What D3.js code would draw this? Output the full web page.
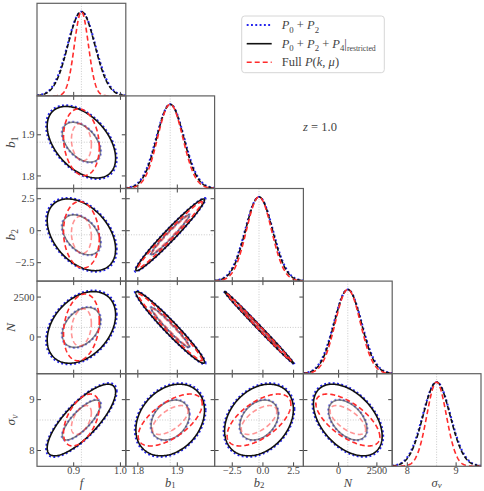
<!DOCTYPE html>
<html><head><meta charset="utf-8">
<script src="https://cdn.jsdelivr.net/npm/d3@7"></script>
<style>body{margin:0;background:#fff}</style>
</head><body><svg id="c" width="484" height="491"></svg>
<script>
// ---------------- data ----------------
const paramNames = ["f", "b1", "b2", "N", "sv"];
const fiducial = [0.9165, 1.882, -0.32, 600, 8.6];
const axisHalfRange = [0.095, 0.1125, 3.62, 2900, 0.91];
const tickValues = [[0.9, 1.0], [1.8, 1.9], [-2.5, 0, 2.5], [0, 2500], [8, 9]];
const xTickLabels = [["0.9", "1.0"], ["1.8", "1.9"], ["−2.5", "0.0", "2.5"], ["0", "2500"], ["8", "9"]];
const yTickLabels = [["0.9", "1.0"], ["1.8", "1.9"], ["−2.5", "0", "2.5"], ["0", "2500"], ["8", "9"]];
// 1-sigma marginal errors per series
const sigmaP02 = [0.0296, 0.0351, 1.13, 905, 0.284];
const sigmaP024 = [0.0287, 0.0341, 1.10, 880, 0.276];
const sigmaFull = [0.0150, 0.0318, 1.02, 820, 0.200];
// pairs [row param, column param]
const pairs = [[1, 0], [2, 0], [3, 0], [4, 0], [2, 1], [3, 1], [4, 1], [3, 2], [4, 2], [4, 3]];
const rhoP02 = [-0.45, -0.40, 0.35, 0.78, 0.975, -0.97, 0.27, -0.997, 0.30, -0.45];
const rhoP024 = [-0.45, -0.40, 0.35, 0.78, 0.975, -0.97, 0.27, -0.997, 0.30, -0.45];
const rhoFull = [-0.15, -0.10, 0.20, 0.50, 0.985, -0.98, 0.62, -0.998, 0.60, -0.65];
const contourLevels = [1.42, 2.55];

// ---------------- layout ----------------
const svg = d3.select("#c");
const X0 = 37, Y0 = 3.3, PW = 88.8, PH = 92.6;
const FONT = "'Liberation Serif','DejaVu Serif',serif";
const TXT = "#444";
const n = paramNames.length;
const xs = paramNames.map((p, i) => d3.scaleLinear()
  .domain([fiducial[i] - axisHalfRange[i], fiducial[i] + axisHalfRange[i]])
  .range([X0 + i * PW, X0 + (i + 1) * PW]));
const ys = paramNames.map((p, j) => d3.scaleLinear()
  .domain([fiducial[j] - axisHalfRange[j], fiducial[j] + axisHalfRange[j]])
  .range([Y0 + (j + 1) * PH, Y0 + j * PH]));
const diagY = d3.range(n).map(j => d3.scaleLinear().domain([0, 1.1]).range([Y0 + (j + 1) * PH, Y0 + j * PH]));

const series = [
  {sig: sigmaP02, rho: rhoP02, stroke: "#2424ee", width: 2.1, dash: "1.9,2.4"},
  {sig: sigmaP024, rho: rhoP024, stroke: "#111", width: 1.6, dash: null},
  {sig: sigmaFull, rho: rhoFull, stroke: "#ff2b2b", width: 1.6, dash: "5,3"}
];

const defs = svg.append("defs");
function clipFor(i, j) {
  const id = `clip${i}_${j}`;
  defs.append("clipPath").attr("id", id).append("rect")
    .attr("x", X0 + i * PW).attr("y", Y0 + j * PH).attr("width", PW).attr("height", PH);
  return `url(#${id})`;
}

function styleLine(p, s, op, dashOverride) {
  p.attr("fill", "none").attr("stroke", s.stroke).attr("stroke-width", s.width)
    .attr("stroke-opacity", op);
  const d = dashOverride !== undefined ? dashOverride : s.dash;
  if (d) p.attr("stroke-dasharray", d);
  return p;
}

function fidLines(g, i, j, diag) {
  const st = (l) => l.attr("stroke", "#bdbdbd").attr("stroke-width", 0.8).attr("stroke-dasharray", "1,1.6");
  st(g.append("line").attr("x1", xs[i](fiducial[i])).attr("x2", xs[i](fiducial[i]))
    .attr("y1", Y0 + j * PH).attr("y2", Y0 + (j + 1) * PH));
  if (!diag) st(g.append("line").attr("y1", ys[j](fiducial[j])).attr("y2", ys[j](fiducial[j]))
    .attr("x1", X0 + i * PW).attr("x2", X0 + (i + 1) * PW));
}

function ellipsePts(i, j, sig, rho, k) {
  const sx = sig[i], sy = sig[j], c = Math.sqrt(1 - rho * rho);
  return d3.range(0, 360, 1.5).map(t => {
    const a = t * Math.PI / 180;
    return [fiducial[i] + k * sx * Math.cos(a), fiducial[j] + k * sy * (rho * Math.cos(a) + c * Math.sin(a))];
  });
}

// off-diagonal panels
pairs.forEach((pr, pi) => {
  const j = pr[0], i = pr[1];
  const g = svg.append("g").attr("clip-path", clipFor(i, j));
  fidLines(g, i, j, false);
  const line = d3.line().x(d => xs[i](d[0])).y(d => ys[j](d[1])).curve(d3.curveLinearClosed);
  series.forEach(s => {
    contourLevels.forEach((k, li) => {
      styleLine(g.append("path").attr("d", line(ellipsePts(i, j, s.sig, s.rho[pi], k))), s, li === 0 ? 0.5 : 1);
    });
  });
});

// diagonal panels
d3.range(n).forEach(i => {
  const g = svg.append("g").attr("clip-path", clipFor(i, i));
  fidLines(g, i, i, true);
  const dom = xs[i].domain();
  const line = d3.line().x(d => xs[i](d[0])).y(d => diagY[i](d[1]));
  [0, 1, 2].forEach(si => {
    const s = series[si];
    const pts = d3.range(0, 241).map(m => {
      const x = dom[0] + (dom[1] - dom[0]) * m / 240;
      return [x, Math.exp(-0.5 * Math.pow((x - fiducial[i]) / s.sig[i], 2))];
    });
    styleLine(g.append("path").attr("d", line(pts)), s, 1, si === 1 ? "4.5,2.2" : undefined);
  });
});

// spines and ticks
const axG = svg.append("g");
const TL = 4;
function tick(x1, y1, x2, y2) {
  axG.append("line").attr("x1", x1).attr("y1", y1).attr("x2", x2).attr("y2", y2)
    .attr("stroke", "#444").attr("stroke-width", 1);
}
d3.range(n).forEach(j => {
  d3.range(j + 1).forEach(i => {
    const L = X0 + i * PW, R = L + PW, T = Y0 + j * PH, B = T + PH;
    tickValues[i].forEach(v => {
      const x = xs[i](v);
      if (x < L || x > R) return;
      tick(x, B, x, B - TL);
      if (i !== j) tick(x, T, x, T + TL);
    });
    if (i !== j) tickValues[j].forEach(v => {
      const y = ys[j](v);
      if (y < T || y > B) return;
      tick(L, y, L + TL, y);
      tick(R, y, R - TL, y);
    });
    axG.append("rect").attr("x", L).attr("y", T).attr("width", PW).attr("height", PH)
      .attr("fill", "none").attr("stroke", "#606060").attr("stroke-width", 1.2);
  });
});

// tick labels
const lastRowB = Y0 + n * PH;
d3.range(n).forEach(i => {
  tickValues[i].forEach((v, k) => {
    svg.append("text").attr("x", xs[i](v)).attr("y", lastRowB + 7.2)
      .attr("text-anchor", "middle").attr("font-family", FONT).attr("font-size", 10.2)
      .attr("fill", TXT).text(xTickLabels[i][k]);
  });
});
d3.range(1, n).forEach(j => {
  tickValues[j].forEach((v, k) => {
    svg.append("text").attr("x", X0 - 2.5).attr("y", ys[j](v) + 3.6)
      .attr("text-anchor", "end").attr("font-family", FONT).attr("font-size", 10.5)
      .attr("fill", TXT).text(yTickLabels[j][k]);
  });
});

// rich text helper
function rich(g, x, y, segs, size, anchor, subShift) {
  const sh = subShift || 0.3;
  const t = g.append("text").attr("x", x).attr("y", y).attr("font-family", FONT)
    .attr("font-size", size).attr("fill", TXT).attr("text-anchor", anchor || "start");
  let shifted = false;
  segs.forEach(sg => {
    const ts = t.append("tspan").text(sg.t);
    if (sg.it) ts.attr("font-style", "italic");
    if (sg.sub) ts.attr("font-size", size * (sg.sz || 0.7));
    if (sg.sub && !shifted) { ts.attr("dy", size * sh); shifted = true; }
    else if (!sg.sub && shifted) { ts.attr("dy", -size * sh); shifted = false; }
  });
  return t;
}
const axisLabelSegs = [
  [{t: "f", it: true}],
  [{t: "b", it: true}, {t: "1", sub: true}],
  [{t: "b", it: true}, {t: "2", sub: true}],
  [{t: "N", it: true}],
  [{t: "σ", it: true}, {t: "v", it: true, sub: true}]
];
d3.range(n).forEach(i => {
  rich(svg, X0 + (i + 0.5) * PW, 486.5, axisLabelSegs[i], 12.5, "middle", 0.15);
});
d3.range(1, n).forEach(j => {
  const g = svg.append("g").attr("transform", `translate(15,${Y0 + (j + 0.5) * PH}) rotate(-90)`);
  rich(g, 0, 0, axisLabelSegs[j], 13.5, "middle", 0.22);
});

// legend
const lg = svg.append("g");
lg.append("rect").attr("x", 241.7).attr("y", 16).attr("width", 142.6).attr("height", 56.7)
  .attr("rx", 3).attr("fill", "#fff").attr("stroke", "#d6d6d6").attr("stroke-width", 1);
const legY = [25, 43.7, 62.3];
series.forEach((s, k) => {
  styleLine(lg.append("line").attr("x1", 246.7).attr("x2", 271.7).attr("y1", legY[k]).attr("y2", legY[k]), s, 1);
});
rich(lg, 281.7, legY[0] + 4, [{t: "P", it: true}, {t: "0", sub: true}, {t: " + "}, {t: "P", it: true}, {t: "2", sub: true}], 12.5);
rich(lg, 281.7, legY[1] + 4, [{t: "P", it: true}, {t: "0", sub: true}, {t: " + "}, {t: "P", it: true}, {t: "2", sub: true},
  {t: " + "}, {t: "P", it: true}, {t: "4", sub: true}, {t: "|"}, {t: "restricted", sub: true, sz: 0.62}], 12.5);
rich(lg, 281.7, legY[2] + 4, [{t: "Full "}, {t: "P", it: true}, {t: "("}, {t: "k", it: true}, {t: ", "}, {t: "μ", it: true}, {t: ")"}], 12.5);

// redshift annotation
rich(svg, 320, 131, [{t: "z", it: true}, {t: " = 1.0"}], 12.5, "middle");
</script>
</body></html>
